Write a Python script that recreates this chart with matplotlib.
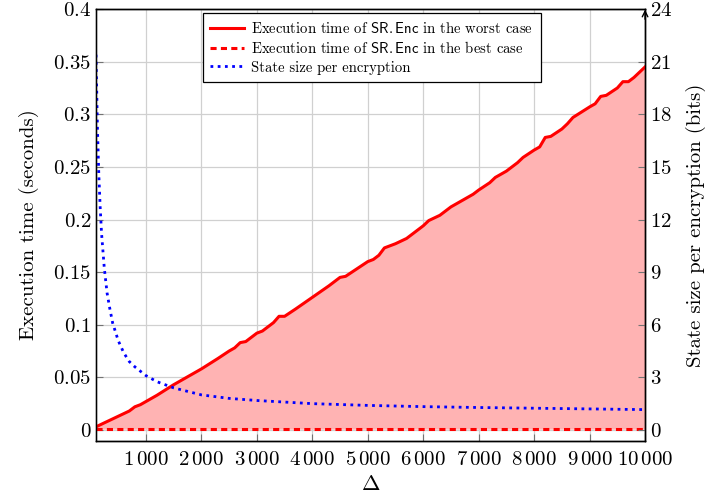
import matplotlib
matplotlib.use("Agg")
import matplotlib.pyplot as plt
from matplotlib.ticker import FixedLocator, FixedFormatter

plt.rcParams['font.family'] = 'serif'
plt.rcParams['font.serif'] = ['cmr10', 'DejaVu Serif']
plt.rcParams['mathtext.fontset'] = 'cm'
plt.rcParams['axes.formatter.use_mathtext'] = True

# worst case execution time of SR.Enc (seconds)
worst_x = [100, 300, 500, 700, 800, 900, 1000, 1200, 1500, 1800, 2000, 2300, 2500,
           2600, 2700, 2800, 3000, 3100, 3300, 3400, 3500, 3700, 4000, 4300, 4500,
           4600, 4800, 5000, 5100, 5200, 5300, 5500, 5700, 6000, 6100, 6300, 6500,
           6700, 6900, 7000, 7200, 7300, 7500, 7700, 7800, 8000, 8100, 8200, 8300,
           8500, 8600, 8700, 9000, 9100, 9200, 9300, 9500, 9600, 9700, 9800, 10000]
worst_t = [0.003, 0.008, 0.013, 0.018, 0.022, 0.024, 0.027, 0.033, 0.043, 0.052, 0.058,
           0.068, 0.075, 0.078, 0.083, 0.084, 0.092, 0.094, 0.102, 0.108, 0.108, 0.115,
           0.126, 0.137, 0.145, 0.146, 0.153, 0.160, 0.162, 0.166, 0.173, 0.177, 0.182,
           0.194, 0.199, 0.204, 0.212, 0.218, 0.224, 0.228, 0.235, 0.240, 0.246, 0.254,
           0.259, 0.266, 0.269, 0.278, 0.279, 0.286, 0.291, 0.297, 0.307, 0.310, 0.317,
           0.318, 0.325, 0.331, 0.331, 0.335, 0.345]

# best case execution time (seconds)
best_x = [100, 10000]
best_t = [0.0008, 0.0008]

# state size per encryption (bits)
state_x = [100, 125, 150, 175, 200, 250, 300, 350, 400, 500, 600, 700, 800, 1000, 1200,
           1500, 2000, 2500, 3000, 4000, 5000, 6000, 7000, 8000, 9000, 10000]
state_bits = [21.4, 17.3, 14.6, 12.7, 11.2, 9.2, 7.8, 6.9, 6.1, 5.1, 4.4, 3.9, 3.6, 3.1,
              2.75, 2.4, 2.0, 1.8, 1.68, 1.5, 1.4, 1.33, 1.28, 1.24, 1.2, 1.16]

x_ticks = [1000, 2000, 3000, 4000, 5000, 6000, 7000, 8000, 9000, 10000]
x_labels = [r'$1\,000$', r'$2\,000$', r'$3\,000$', r'$4\,000$', r'$5\,000$',
            r'$6\,000$', r'$7\,000$', r'$8\,000$', r'$9\,000$', r'$10\,000$']
y_ticks = [0, 0.05, 0.1, 0.15, 0.2, 0.25, 0.3, 0.35, 0.4]
y_labels = ['$0$', '$0.05$', '$0.1$', '$0.15$', '$0.2$', '$0.25$', '$0.3$', '$0.35$', '$0.4$']
y2_ticks = [0, 3, 6, 9, 12, 15, 18, 21, 24]

fig = plt.figure(figsize=(7.23, 5.04), dpi=100)
ax = fig.add_axes([0.1328, 0.125, 0.7594, 0.857])
ax2 = ax.twinx()

ax.fill_between(worst_x, worst_t, best_t[0], color='#ffb3b3', lw=0, zorder=1)
l1, = ax.plot(worst_x, worst_t, color='red', lw=2.2, zorder=3,
              label=r'Execution time of $\mathsf{SR{.}Enc}$ in the worst case')
l2, = ax.plot(best_x, best_t, color='red', lw=2.2, ls=(0, (2.0, 1.4)), zorder=3,
              label=r'Execution time of $\mathsf{SR{.}Enc}$ in the best case')
l3, = ax2.plot(state_x, state_bits, color='blue', lw=2.0, ls=(0, (1, 1.6)),
               label='State size per encryption')

ax.set_xlim(100, 10000)
ax.set_ylim(-0.0105, 0.4)
ax2.set_ylim(-0.0105 * 60, 24)

ax.xaxis.set_major_locator(FixedLocator(x_ticks))
ax.xaxis.set_major_formatter(FixedFormatter(x_labels))
ax.yaxis.set_major_locator(FixedLocator(y_ticks))
ax.yaxis.set_major_formatter(FixedFormatter(y_labels))
ax2.yaxis.set_major_locator(FixedLocator(y2_ticks))
ax2.set_yticklabels(['$%d$' % t for t in y2_ticks])

ax.grid(True, color='#d0d0d0', lw=0.9)
ax.set_axisbelow(True)
for a in (ax, ax2):
    a.tick_params(direction='in', length=5, color='0.45', labelsize=15, width=0.8)
    for s in a.spines.values():
        s.set_linewidth(1.0)
        s.set_color('black')
ax.spines['left'].set_color('0.4')
ax.tick_params(axis='x', pad=7)

ax.set_xlabel(r'$\Delta$', fontsize=16, labelpad=4)
ax.set_ylabel('Execution time (seconds)', fontsize=15, labelpad=10)
ax2.set_ylabel('State size per encryption (bits)', fontsize=15, labelpad=10)

ax2.annotate('', xy=(1, 1.005), xytext=(1, 0.97), xycoords='axes fraction',
             arrowprops=dict(arrowstyle='->', lw=1.0, color='black'))

leg = ax.legend(handles=[l1, l2, l3], loc='upper center', bbox_to_anchor=(0.502, 0.99),
                borderaxespad=0, fontsize=10.6, fancybox=False, framealpha=1,
                edgecolor='black', handlelength=2.3, handletextpad=0.5, borderpad=0.5,
                labelspacing=0.3)
leg.get_frame().set_linewidth(0.9)
leg.set_zorder(5)

fig.savefig('out.png', dpi=100)
